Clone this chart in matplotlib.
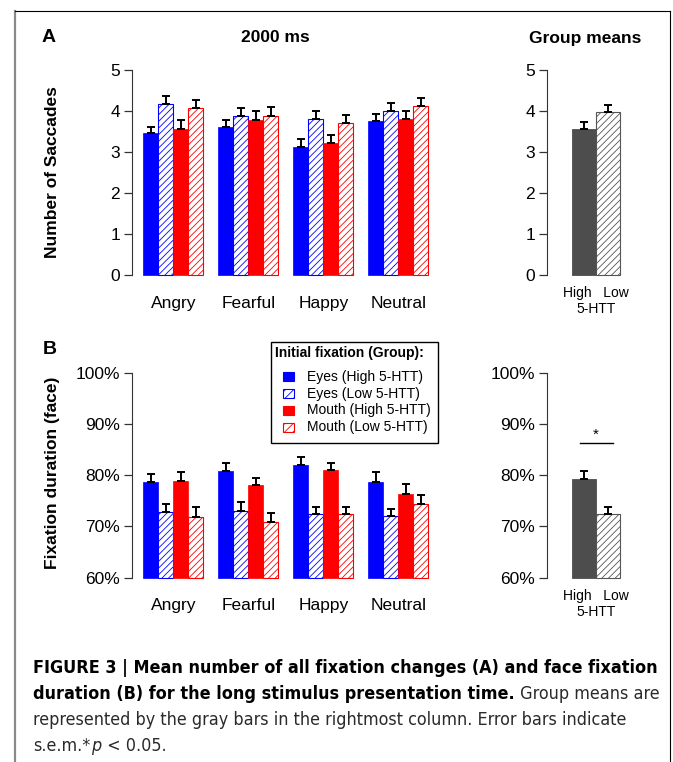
import matplotlib
matplotlib.use("Agg")
import matplotlib.pyplot as plt
from matplotlib import font_manager as fm
from matplotlib.patches import Rectangle
from matplotlib.lines import Line2D

plt.rcParams['font.family'] = ['Liberation Sans', 'DejaVu Sans']
plt.rcParams['hatch.linewidth'] = 0.6

# ---- data ----
emotions = ["Angry", "Fearful", "Happy", "Neutral"]
series_labels = ["Eyes (High 5-HTT)", "Eyes (Low 5-HTT)",
                 "Mouth (High 5-HTT)", "Mouth (Low 5-HTT)"]

# A: number of saccades
sacc_eyes_high = [3.46, 3.63, 3.13, 3.76]
sacc_eyes_low = [4.19, 3.89, 3.82, 4.02]
sacc_mouth_high = [3.57, 3.80, 3.23, 3.82]
sacc_mouth_low = [4.08, 3.89, 3.72, 4.14]
sacc_eyes_high_sem = [0.16, 0.17, 0.19, 0.17]
sacc_eyes_low_sem = [0.18, 0.20, 0.20, 0.18]
sacc_mouth_high_sem = [0.21, 0.22, 0.20, 0.20]
sacc_mouth_low_sem = [0.19, 0.22, 0.19, 0.19]

# B: fixation duration (%)
fix_eyes_high = [78.7, 80.9, 81.9, 78.7]
fix_eyes_low = [72.8, 73.1, 72.4, 72.0]
fix_mouth_high = [78.9, 78.0, 81.0, 76.3]
fix_mouth_low = [71.9, 70.9, 72.4, 74.4]
fix_eyes_high_sem = [1.5, 1.5, 1.65, 1.9]
fix_eyes_low_sem = [1.5, 1.7, 1.4, 1.5]
fix_mouth_high_sem = [1.7, 1.5, 1.4, 1.9]
fix_mouth_low_sem = [1.8, 1.8, 1.4, 1.7]

# group means (High, Low 5-HTT)
group_sacc = [3.58, 3.99]
group_sacc_sem = [0.15, 0.17]
group_fix = [79.25, 72.5]
group_fix_sem = [1.5, 1.3]

W, H = 673, 762
fig = plt.figure(figsize=(W / 100, H / 100), dpi=100)


def px_axes(x0, y0, x1, y1):
    return fig.add_axes([x0 / W, 1 - y1 / H, (x1 - x0) / W, (y1 - y0) / H])


def fx(x):
    return x / W


def fy(y):
    return 1 - y / H


colors = ["#0000ff", "#0000ff", "#ff0000", "#ff0000"]
hatched = [False, True, False, True]
tick_fs = 12.5
lab_fs = 12.5


def style_axis(ax, lo, hi, ticks, labels):
    for s in ["top", "right", "bottom"]:
        ax.spines[s].set_visible(False)
    ax.spines["left"].set_bounds(lo, hi)
    ax.spines["left"].set_color("#333333")
    ax.set_yticks(ticks)
    ax.set_yticklabels(labels)
    ax.tick_params(axis="y", length=5.5, width=0.9, color="#333333",
                   labelsize=tick_fs, pad=3)


def draw_main(ax, means, sems, bottom, ylim):
    for j in range(4):
        lefts = [1 + 5 * g + j for g in range(4)]
        heights = [m - bottom for m in means[j]]
        if hatched[j]:
            ax.bar(lefts, heights, width=1, bottom=bottom, align="edge",
                   color="white", edgecolor=colors[j], hatch="/////", lw=0.8)
        else:
            ax.bar(lefts, heights, width=1, bottom=bottom, align="edge",
                   color=colors[j], edgecolor=colors[j], lw=0.5)
        ax.errorbar([l + 0.5 for l in lefts], means[j],
                    yerr=[[0] * 4, sems[j]], fmt="none", ecolor="black",
                    elinewidth=1.4, capsize=2.6, capthick=1.4)
    ax.set_xlim(0.24, 20.76)
    ax.set_ylim(*ylim)
    ax.set_xticks([3 + 5 * g for g in range(4)])
    ax.set_xticklabels(emotions)
    ax.tick_params(axis="x", length=0, labelsize=tick_fs, pad=9)


def draw_group(ax, means, sems, bottom, ylim):
    ax.bar([0], [means[0] - bottom], width=1, bottom=bottom, align="edge",
           color="#4d4d4d", edgecolor="#4d4d4d", lw=0.6)
    ax.bar([1], [means[1] - bottom], width=1, bottom=bottom, align="edge",
           color="white", edgecolor="#555555", hatch="/////", lw=0.8)
    ax.errorbar([0.5, 1.5], means, yerr=[[0, 0], sems], fmt="none",
                ecolor="black", elinewidth=1.4, capsize=2.6, capthick=1.4)
    ax.set_xlim(-1.08, 3.07)
    ax.set_ylim(*ylim)
    ax.set_xticks([1.0])
    ax.set_xticklabels(["High   Low\n5-HTT"], linespacing=1.2)
    ax.tick_params(axis="x", length=0, labelsize=10, pad=2)


# panel A
axA = px_axes(132, 62.3, 439.6, 283.2)
draw_main(axA, [sacc_eyes_high, sacc_eyes_low, sacc_mouth_high, sacc_mouth_low],
          [sacc_eyes_high_sem, sacc_eyes_low_sem, sacc_mouth_high_sem, sacc_mouth_low_sem],
          0, (-0.2, 5.2))
style_axis(axA, 0, 5, range(6), [str(i) for i in range(6)])

axGA = px_axes(546.7, 62.3, 645, 283.2)
draw_group(axGA, group_sacc, group_sacc_sem, 0, (-0.2, 5.2))
style_axis(axGA, 0, 5, range(6), [str(i) for i in range(6)])

# panel B
pct_ticks = [60, 70, 80, 90, 100]
pct_labels = ["%d%%" % t for t in pct_ticks]
axB = px_axes(132, 364.5, 439.6, 585.9)
draw_main(axB, [fix_eyes_high, fix_eyes_low, fix_mouth_high, fix_mouth_low],
          [fix_eyes_high_sem, fix_eyes_low_sem, fix_mouth_high_sem, fix_mouth_low_sem],
          60, (58.4, 101.6))
style_axis(axB, 60, 100, pct_ticks, pct_labels)

axGB = px_axes(546.7, 364.5, 645, 585.9)
draw_group(axGB, group_fix, group_fix_sem, 60, (58.4, 101.6))
style_axis(axGB, 60, 100, pct_ticks, pct_labels)
axGB.plot([0.32, 1.70], [86.2, 86.2], color="black", lw=1)
axGB.text(1.0, 86.5, "*", ha="center", va="bottom", fontsize=11)

# titles and labels
fig.text(fx(49), fy(37), "A", ha="center", va="center", fontsize=14, weight="bold")
fig.text(fx(49.5), fy(349), "B", ha="center", va="center", fontsize=14, weight="bold")
fig.text(fx(275), fy(37), "2000 ms", ha="center", va="center", fontsize=lab_fs, weight="bold")
fig.text(fx(585.5), fy(38), "Group means", ha="center", va="center", fontsize=lab_fs, weight="bold")
fig.text(fx(53), fy(172.5), "Number of Saccades", rotation=90, ha="center", va="center",
         fontsize=lab_fs, weight="bold")
fig.text(fx(53), fy(473), "Fixation duration (face)", rotation=90, ha="center", va="center",
         fontsize=lab_fs, weight="bold")

# legend (drawn by hand to match the boxed layout)
fig.add_artist(Rectangle((fx(270.7), fy(443)), (438 - 270.7) / W, (443 - 341.7) / H,
                         transform=fig.transFigure, facecolor="white",
                         edgecolor="black", lw=1))
fig.text(fx(275), fy(353), "Initial fixation (Group):", ha="left", va="center",
         fontsize=10, weight="bold")
entry_y = [376.7, 393.7, 410.3, 427]
for j, lab in enumerate(series_labels):
    y = entry_y[j]
    if hatched[j]:
        fig.add_artist(Rectangle((fx(283), fy(y + 4.5)), 11 / W, 9 / H,
                                 transform=fig.transFigure, facecolor="white",
                                 edgecolor=colors[j], hatch="////", lw=0.8))
    else:
        fig.add_artist(Rectangle((fx(283), fy(y + 4.5)), 11 / W, 9 / H,
                                 transform=fig.transFigure, facecolor=colors[j],
                                 edgecolor=colors[j], lw=0.8))
    fig.text(fx(306.7), fy(y), lab, ha="left", va="center", fontsize=10)

# frame lines
fig.add_artist(Line2D([fx(15), fx(15)], [0, fy(11)], color="#8a8a8a", lw=1.6))
fig.add_artist(Line2D([fx(15), fx(670)], [fy(11), fy(11)], color="black", lw=0.8))
fig.add_artist(Line2D([fx(670), fx(670)], [0, fy(11)], color="black", lw=0.8))

# ---- caption: pick narrow faces if any are installed ----
fig.canvas.draw()
r = fig.canvas.get_renderer()


def wnum(w):
    if isinstance(w, (int, float)):
        return w
    return fm.weight_dict.get(str(w).lower(), 400)


def is_narrow(f):
    return "Narrow" in f.name or "Condensed" in f.name or "condensed" in str(f.stretch)


pref = ["Liberation Sans Narrow", "DejaVu Sans", "Roboto", "Open Sans"]


def rank(f):
    for i, p in enumerate(pref):
        if f.name.startswith(p):
            return i
    return len(pref)


narrow = [f for f in fm.fontManager.ttflist if is_narrow(f)]
bold_faces = sorted([f for f in narrow if wnum(f.weight) >= 600 and f.style == "normal"], key=rank)
reg_faces = sorted([f for f in narrow if wnum(f.weight) < 600 and f.style == "normal"],
                   key=lambda f: (rank(f), abs(wnum(f.weight) - 400)))
ital_faces = sorted([f for f in narrow if wnum(f.weight) < 600 and f.style != "normal"],
                    key=lambda f: (rank(f), abs(wnum(f.weight) - 400)))


def fp_from(faces, **fallback):
    if faces:
        return fm.FontProperties(fname=faces[0].fname)
    return fm.FontProperties(family="Liberation Sans", **fallback)


fp_bold = fp_from(bold_faces, weight="bold")
fp_reg = fp_from(reg_faces)
fp_ital = fp_from(ital_faces, style="italic")

line1 = "FIGURE 3 | Mean number of all fixation changes (A) and face fixation"
line2b = "duration (B) for the long stimulus presentation time."
line2r = " Group means are"
line3 = "represented by the gray bars in the rightmost column. Error bars indicate"


def width_of(s, fp, fs):
    p = fp.copy()
    p.set_size(fs)
    t = fig.text(0, 0, s, fontproperties=p)
    w = t.get_window_extent(r).width
    t.remove()
    return w


bold_fs = 12 * 631 / width_of(line1, fp_bold, 12)
reg_fs = 12 * 603 / width_of(line3, fp_reg, 12)
w2 = width_of(line2b, fp_bold, bold_fs) + width_of(line2r, fp_reg, reg_fs)
if w2 > 625:
    bold_fs *= 625 / w2
    reg_fs *= 625 / w2


def put(x, y, s, fp, fs, **kw):
    p = fp.copy()
    p.set_size(fs)
    t = fig.text(x / W, 1 - y / H, s, ha="left", va="baseline",
                 fontproperties=p, **kw)
    return t.get_window_extent(r).x1


x0 = 33
grey = "#2a2a2a"
put(x0, 673, line1, fp_bold, bold_fs)
xe = put(x0, 699, line2b, fp_bold, bold_fs)
put(xe, 699, line2r, fp_reg, reg_fs, color=grey)
put(x0, 725, line3, fp_reg, reg_fs, color=grey)
xe = put(x0, 751, "s.e.m.*", fp_reg, reg_fs, color=grey)
xe = put(xe + 1, 751, "p", fp_ital, reg_fs, color=grey)
put(xe, 751, " < 0.05.", fp_reg, reg_fs, color=grey)

fig.savefig("out.png", dpi=100)
